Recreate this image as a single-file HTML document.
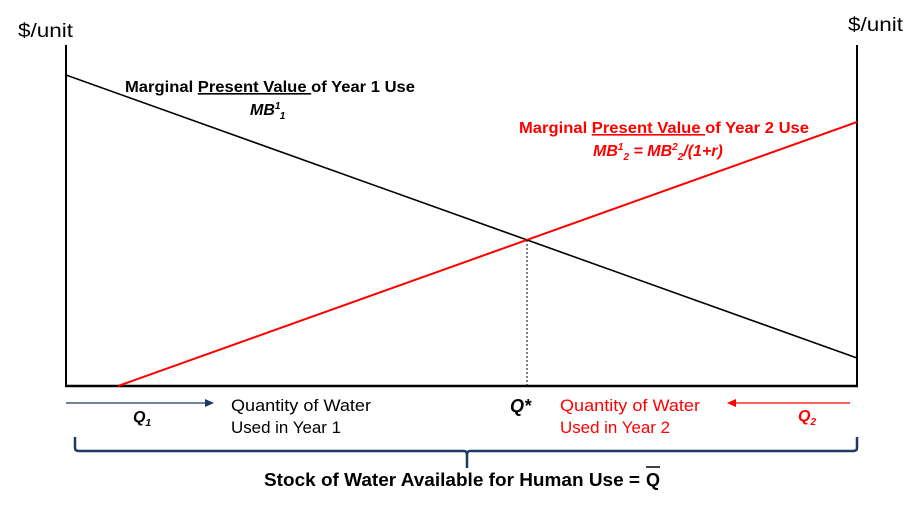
<!DOCTYPE html>
<html><head><style>
body{margin:0;background:#fff;}
svg{display:block;font-family:"Liberation Sans",sans-serif;}
</style></head><body>
<svg width="913" height="507" viewBox="0 0 913 507">
<line x1="66" y1="45" x2="66" y2="387" stroke="#000" stroke-width="2"/>
<line x1="857" y1="45" x2="857" y2="387" stroke="#000" stroke-width="2"/>
<line x1="65" y1="386" x2="858" y2="386" stroke="#000" stroke-width="2.5"/>
<line x1="66" y1="75" x2="857" y2="358" stroke="#000" stroke-width="1.6"/>
<line x1="118" y1="386" x2="857" y2="122" stroke="#f00" stroke-width="2"/>
<line x1="527" y1="240" x2="527" y2="386" stroke="#000" stroke-width="1" stroke-dasharray="2,2"/>
<text x="18" y="37" font-size="19" textLength="55" lengthAdjust="spacingAndGlyphs">$/unit</text>
<text x="848" y="31" font-size="19" textLength="55" lengthAdjust="spacingAndGlyphs">$/unit</text>
<text x="125" y="92" font-size="16" font-weight="bold" textLength="290" lengthAdjust="spacingAndGlyphs">Marginal <tspan text-decoration="underline">Present Value </tspan>of Year 1 Use</text>
<text x="250" y="115" font-size="16" font-weight="bold" font-style="italic">MB<tspan font-size="10" dy="-6">1</tspan><tspan font-size="10" dy="10">1</tspan></text>
<g fill="#f00" font-weight="bold">
<text x="519" y="133" font-size="16" textLength="290" lengthAdjust="spacingAndGlyphs">Marginal <tspan text-decoration="underline">Present Value </tspan>of Year 2 Use</text>
<text x="593" y="156" font-size="16" font-style="italic">MB<tspan font-size="10" dy="-6">1</tspan><tspan font-size="10" dy="10">2</tspan><tspan dy="-4"> = MB</tspan><tspan font-size="10" dy="-6">2</tspan><tspan font-size="10" dy="10">2</tspan><tspan dy="-4">/(1+r)</tspan></text>
</g>
<line x1="66" y1="403" x2="208" y2="403" stroke="#1f3864" stroke-width="1.2"/>
<polygon points="214,403 205,399 205,407" fill="#1f3864"/>
<text x="133" y="422" font-size="16" font-weight="bold" font-style="italic">Q<tspan font-size="10" dy="4">1</tspan></text>
<text x="231" y="411" font-size="17" textLength="140" lengthAdjust="spacingAndGlyphs">Quantity of Water</text>
<text x="231" y="433" font-size="17" textLength="110" lengthAdjust="spacingAndGlyphs">Used in Year 1</text>
<text x="510" y="412" font-size="18" font-weight="bold" font-style="italic">Q*</text>
<text x="560" y="411" font-size="17" fill="#f00" textLength="140" lengthAdjust="spacingAndGlyphs">Quantity of Water</text>
<text x="560" y="433" font-size="17" fill="#f00" textLength="110" lengthAdjust="spacingAndGlyphs">Used in Year 2</text>
<line x1="733" y1="403" x2="850" y2="403" stroke="#f00" stroke-width="1.2"/>
<polygon points="727,403 736,399 736,407" fill="#f00"/>
<text x="798" y="421" font-size="16" font-weight="bold" font-style="italic" fill="#f00">Q<tspan font-size="10" dy="4">2</tspan></text>
<path d="M75,437 L75,448 Q75,451 79,451 L464,451 Q467,451 467,455 L467,468 M467,455 Q467,451 470,451 L853,451 Q857,451 857,448 L857,437" fill="none" stroke="#1f3864" stroke-width="2.5"/>
<text x="264" y="486" font-size="18" font-weight="bold" textLength="376" lengthAdjust="spacingAndGlyphs">Stock of Water Available for Human Use =</text>
<text x="646" y="486" font-size="18" font-weight="bold">Q</text>
<line x1="646" y1="467" x2="660" y2="467" stroke="#000" stroke-width="1.5"/>
</svg>
</body></html>
